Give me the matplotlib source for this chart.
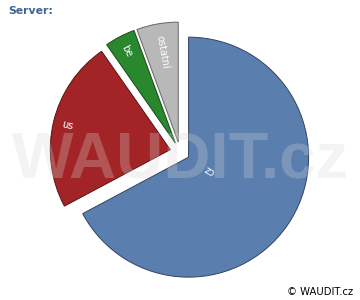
import math
import matplotlib
matplotlib.use("Agg")
import matplotlib.pyplot as plt
import matplotlib.colors as mcolors

# Data
categories = ["cz", "us", "be", "ostatní"]
values = [67.2, 23.1, 4.1, 5.6]
colors = ["#5A7EAE", "#A32426", "#29872D", "#B8B8B8"]
label_pos = [0.2, 0.88, 0.87, 0.76]

W, H = 360, 300
fig = plt.figure(figsize=(W / 100, H / 100), dpi=100)
ax = fig.add_axes([0, 0, 1, 1])

wedges, _ = ax.pie(values, colors=colors, startangle=90, counterclock=False,
                   center=(180, 148), radius=120, explode=[10] * len(values),
                   wedgeprops=dict(linewidth=0.7))
for w, c in zip(wedges, colors):
    rgb = mcolors.to_rgb(c)
    w.set_edgecolor(tuple(v * 0.55 for v in rgb))

for w, lab, f in zip(wedges, categories, label_pos):
    cx, cy = w.center
    mid = (w.theta1 + w.theta2) / 2
    t = math.radians(mid)
    x = cx + f * w.r * math.cos(t)
    y = cy + f * w.r * math.sin(t)
    rot = (mid - 180 + 180) % 360 - 180
    ax.text(x, y, lab, rotation=rot, rotation_mode="anchor", ha="center",
            va="center", color="white", fontsize=7, family="DejaVu Sans")

ax.set_xlim(0, W)
ax.set_ylim(0, H)
ax.set_aspect("equal", adjustable="box")
ax.axis("off")

# Watermark
ax.text(181, 140, "WAUDIT.cz", ha="center", va="center", fontsize=47,
        fontweight="bold", family="Liberation Sans", color=(0.84, 0.84, 0.84),
        alpha=0.28, zorder=10)

fig.text(8 / W, 1 - 11 / H, "Server:", ha="left", va="center", fontsize=7.8,
         fontweight="bold", color="#3E6598", family="DejaVu Sans")
fig.text(353 / W, 1 - 292 / H, "© WAUDIT.cz", ha="right", va="center",
         fontsize=7.2, color="black", family="DejaVu Sans")

fig.savefig("out.png", dpi=100)
